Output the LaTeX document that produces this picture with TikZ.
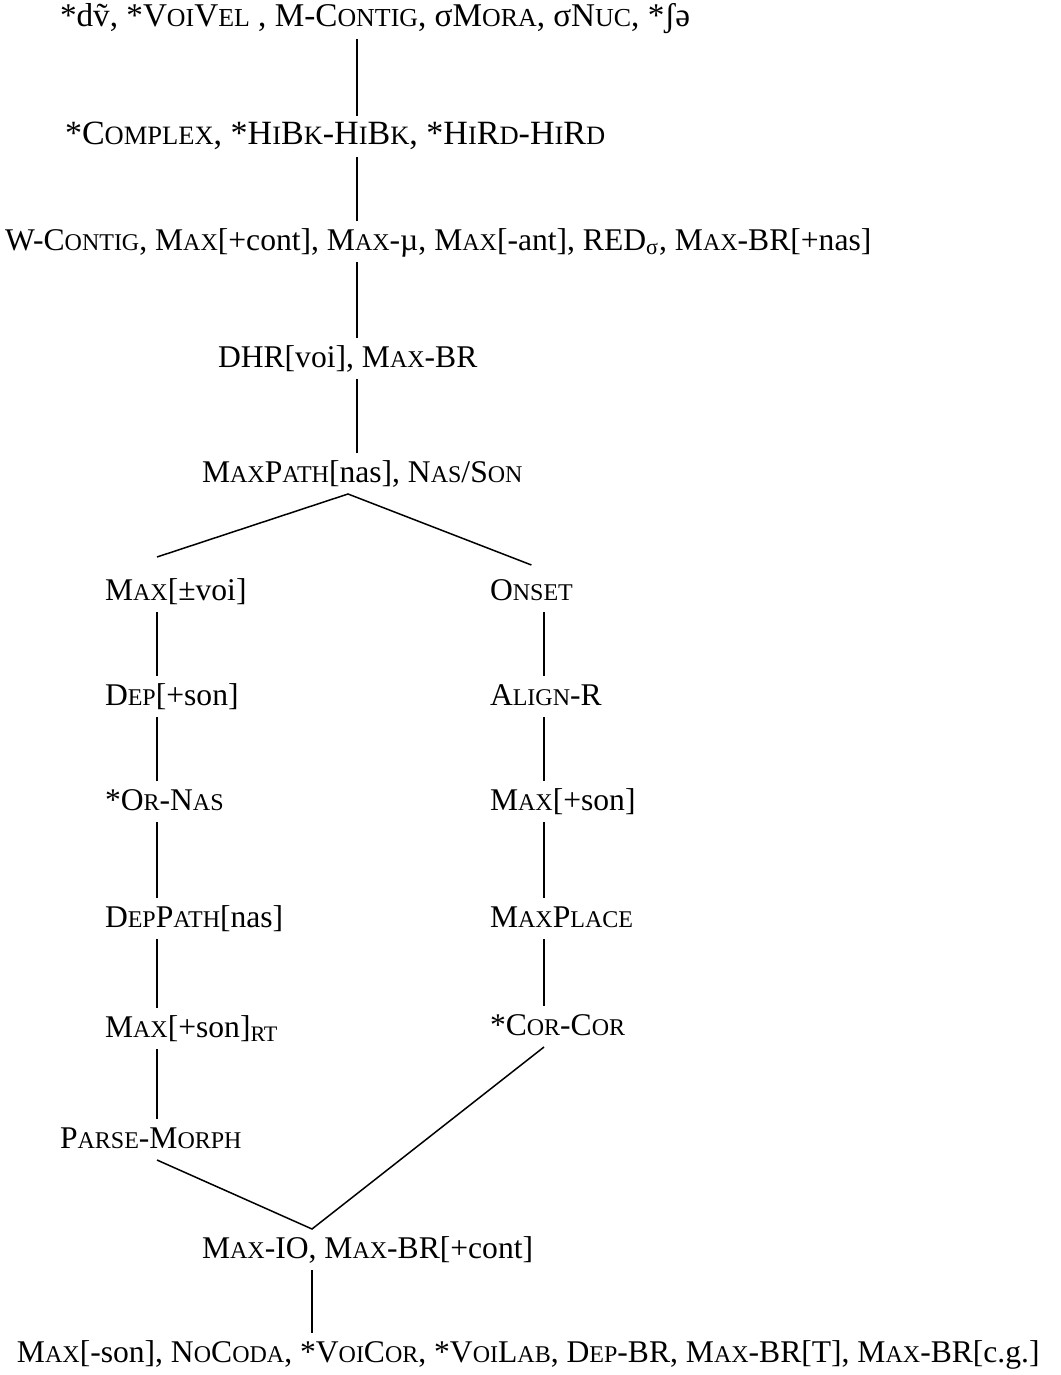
\documentclass[tikz,border=0pt]{standalone}
\usepackage{fontspec}
\setmainfont{Liberation Serif}
\usepackage{relsize}
\usetikzlibrary{positioning}
\newcommand{\lc}[1]{\textscale{0.78}{#1}}

\begin{document}
\begin{tikzpicture}[x=0.5pt, y=-0.5pt, font=\fontsize{15.8pt}{19pt}\selectfont,
  con/.style={anchor=base west, inner sep=0pt, outer sep=3.5pt, xshift=-3.5pt, text height=11pt, text depth=2.5pt},
  link/.style={line width=0.75pt}]
\useasboundingbox (0,0) rectangle (1060,1375);
\coordinate (spine) at (357,0);
\coordinate (fork) at (348,0);
\coordinate (lcol) at (157,0);
\coordinate (rcol) at (544,0);
\coordinate (merge) at (312,0);

\node[con, font=\fontsize{16.6pt}{19pt}\selectfont] (top) at (60,27) {*d\~{v}, *V\lc{OI}V\lc{EL} , M-C\lc{ONTIG}, σM\lc{ORA}, σN\lc{UC}, *ʃə};
\node[con, font=\fontsize{17pt}{19pt}\selectfont] (cplx) at (65,145) {*C\lc{OMPLEX}, *H\lc{I}B\lc{K}-H\lc{I}B\lc{K}, *H\lc{I}R\lc{D}-H\lc{I}R\lc{D}};
\node[con] (wcon) at (5,250) {W-C\lc{ONTIG}, M\lc{AX}[+cont], M\lc{AX}-µ, M\lc{AX}[-ant], RED\textsubscript{σ}, M\lc{AX}-BR[+nas]};
\node[con] (dhr) at (218,367) {DHR[voi], M\lc{AX}-BR};
\node[con] (mpath) at (202,482) {M\lc{AX}P\lc{ATH}[nas], N\lc{AS}/S\lc{ON}};

\node[con] (mvoi) at (105,600) {M\lc{AX}[±voi]};
\node[con] (depson) at (105,705) {D\lc{EP}[+son]};
\node[con] (ornas) at (105,810) {*O\lc{R}-N\lc{AS}};
\node[con] (dpath) at (105,927) {D\lc{EP}P\lc{ATH}[nas]};
\node[con] (mrt) at (105,1037) {M\lc{AX}[+son]\textsubscript{RT}};
\node[con] (parse) at (60,1148) {P\lc{ARSE}-M\lc{ORPH}};

\node[con] (onset) at (490,600) {O\lc{NSET}};
\node[con] (align) at (490,705) {A\lc{LIGN}-R};
\node[con] (mson) at (490,810) {M\lc{AX}[+son]};
\node[con] (mplace) at (490,927) {M\lc{AX}P\lc{LACE}};
\node[con] (corcor) at (490,1035) {*C\lc{OR}-C\lc{OR}};

\node[con] (maxio) at (202,1258) {M\lc{AX}-IO, M\lc{AX}-BR[+cont]};
\node[con] (bottom) at (17,1362) {M\lc{AX}[-son], N\lc{O}C\lc{ODA}, *V\lc{OI}C\lc{OR}, *V\lc{OI}L\lc{AB}, D\lc{EP}-BR, M\lc{AX}-BR[T], M\lc{AX}-BR[c.g.]};

\draw[link] (top.south -| spine) -- (cplx.north -| spine);
\draw[link] (cplx.south -| spine) -- (wcon.north -| spine);
\draw[link] (wcon.south -| spine) -- (dhr.north -| spine);
\draw[link] (dhr.south -| spine) -- (mpath.north -| spine);
\draw[link] ([yshift=7pt]mvoi.north -| lcol) -- (mpath.south -| fork) -- ([yshift=3pt]onset.north);

\draw[link] (mvoi.south -| lcol) -- (depson.north -| lcol);
\draw[link] (depson.south -| lcol) -- (ornas.north -| lcol);
\draw[link] (ornas.south -| lcol) -- (dpath.north -| lcol);
\draw[link] (dpath.south -| lcol) -- (mrt.north -| lcol);
\draw[link] (mrt.south -| lcol) -- (parse.north -| lcol);

\draw[link] (onset.south -| rcol) -- (align.north -| rcol);
\draw[link] (align.south -| rcol) -- (mson.north -| rcol);
\draw[link] (mson.south -| rcol) -- (mplace.north -| rcol);
\draw[link] (mplace.south -| rcol) -- (corcor.north -| rcol);

\draw[link] (parse.south -| lcol) -- (maxio.north -| merge) -- (corcor.south -| rcol);
\draw[link] (maxio.south -| merge) -- (bottom.north -| merge);
\end{tikzpicture}
\end{document}
